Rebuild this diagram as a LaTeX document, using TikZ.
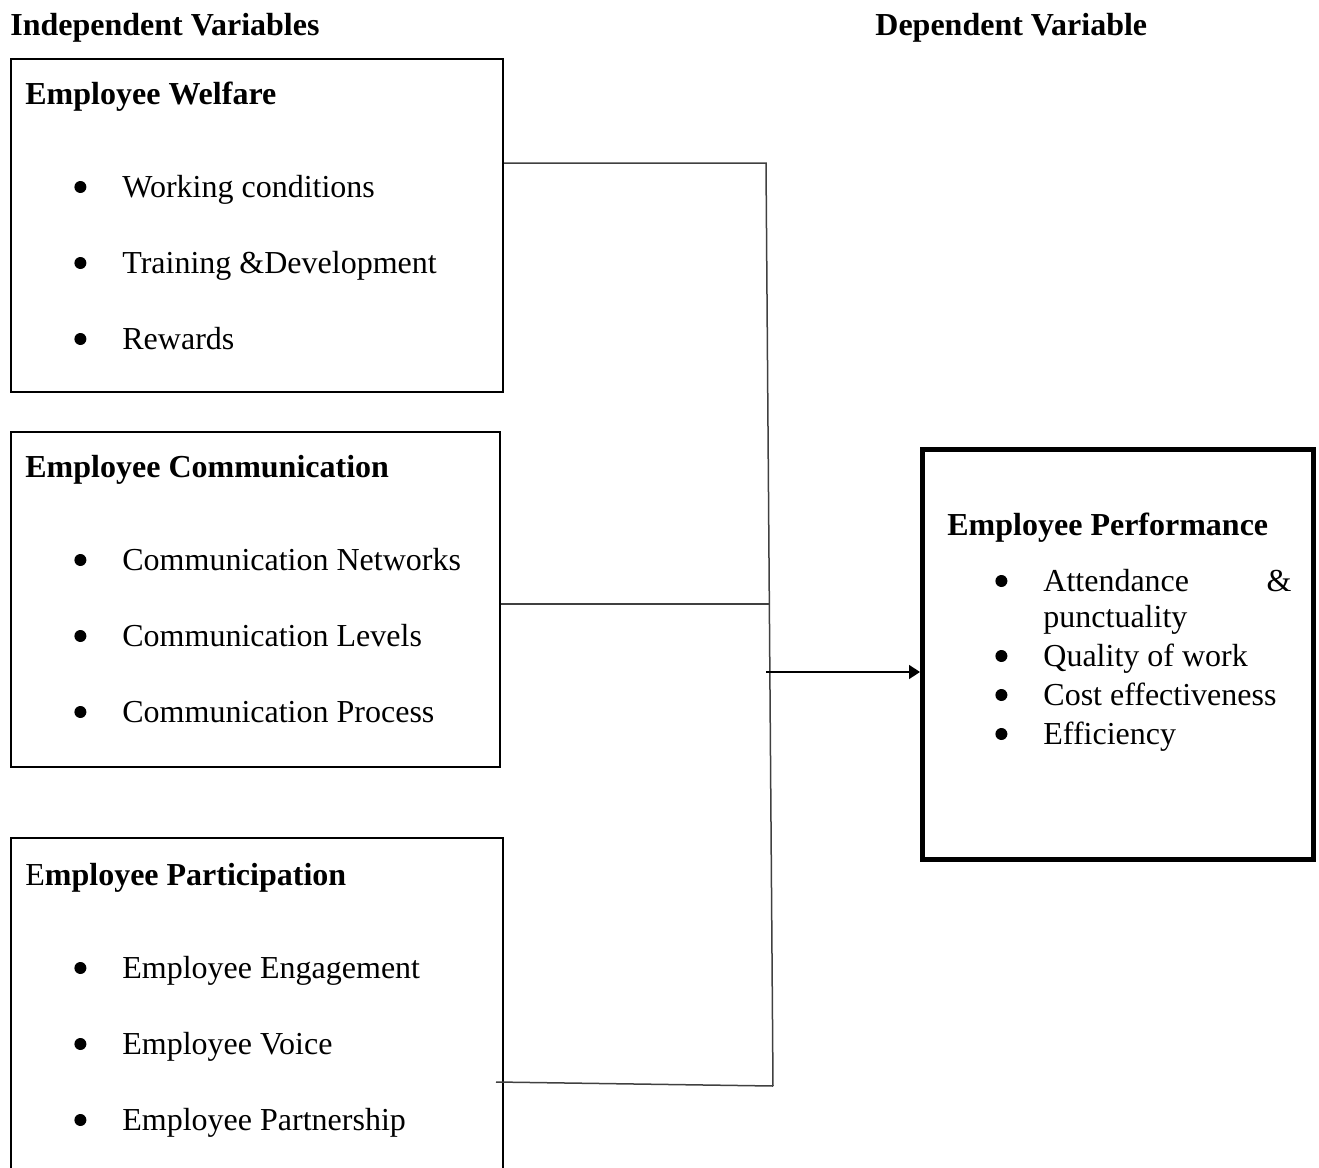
\documentclass[tikz,border=0pt]{standalone}
\usepackage{fontspec}
\setmainfont{Liberation Serif}
\usepackage{tikz}
\usetikzlibrary{arrows.meta}

\newcommand{\itembul}{\llap{\tikz[baseline=-5pt]\fill (0,0) circle (3pt);\hspace{18pt}}}

\begin{document}
\begin{tikzpicture}[x=0.5pt,y=-0.5pt,
  every node/.style={inner sep=0pt,anchor=base west,font=\fontsize{16}{19}\selectfont},
  hd/.style={font=\fontsize{16}{19}\selectfont\bfseries},
  ivbox/.style={draw,line width=1pt,anchor=center},
  dvbox/.style={draw,line width=2.5pt,anchor=center},
  link/.style={draw=black!75,line width=0.75pt},
  >={Triangle[length=5.5pt,width=7pt]}]
\clip (0,0) rectangle (1319,1168);
%\draw[gray!20] (0,0) grid[step=50] (1319,1168);

  % headings
  \node[hd] (iv) at (10,35)  {Independent Variables};
  \node[hd] (dv) at (875,35) {Dependent Variable};

  % boxes
  \node[ivbox,minimum width=246.25pt,minimum height=166.75pt] (welfare) at (256.75,225.25) {};
  \node[ivbox,minimum width=244.75pt,minimum height=167.5pt]  (comm)    at (255.25,599.5)  {};
  \node[ivbox,minimum width=246.25pt,minimum height=206pt]    (partic)  at (256.75,1044)   {};
  \node[dvbox,minimum width=195.5pt,minimum height=205pt]     (perf)    at (1118,654.5)    {};

  % employee welfare
  \node[hd] (h1) at (25,104) {Employee Welfare};
  \node (w1) at (122,197) {\itembul Working conditions};
  \node (w2) at (122,273) {\itembul Training \&Development};
  \node (w3) at (122,349) {\itembul Rewards};

  % employee communication
  \node[hd] (h2) at (25,477) {Employee Communication};
  \node (c1) at (122,570) {\itembul Communication Networks};
  \node (c2) at (122,646) {\itembul Communication Levels};
  \node (c3) at (122,722) {\itembul Communication Process};

  % employee participation
  \node[hd] (h3) at (25,885) {\mdseries E\bfseries mployee Participation};
  \node (p1) at (122,978)  {\itembul Employee Engagement};
  \node (p2) at (122,1054) {\itembul Employee Voice};
  \node (p3) at (122,1130) {\itembul Employee Partnership};

  % employee performance
  \node[hd] (h4) at (947,535) {Employee Performance};
  \node (e1) at (1043,591) {\itembul\makebox[124pt][l]{Attendance\hfill\&}};
  \node (e2) at (1043,627) {punctuality};
  \node (e3) at (1043,666) {\itembul Quality of work};
  \node (e4) at (1043,705) {\itembul Cost effectiveness};
  \node (e5) at (1043,744) {\itembul Efficiency};

  % connectors
  \coordinate (top) at (766,163);
  \coordinate (mid) at (769.5,604);
  \coordinate (bot) at (773,1086);
  \coordinate (pin) at (496,1082);
  \coordinate (arr) at (766,672);
  \draw[link] (welfare.east |- top) -- (top) -- (bot);
  \draw[link] (comm.east |- mid) -- (mid);
  \draw[link] (pin) -- (bot);
  \draw[link,draw=black,->] (arr) -- (perf.west |- arr);
\end{tikzpicture}
\end{document}
